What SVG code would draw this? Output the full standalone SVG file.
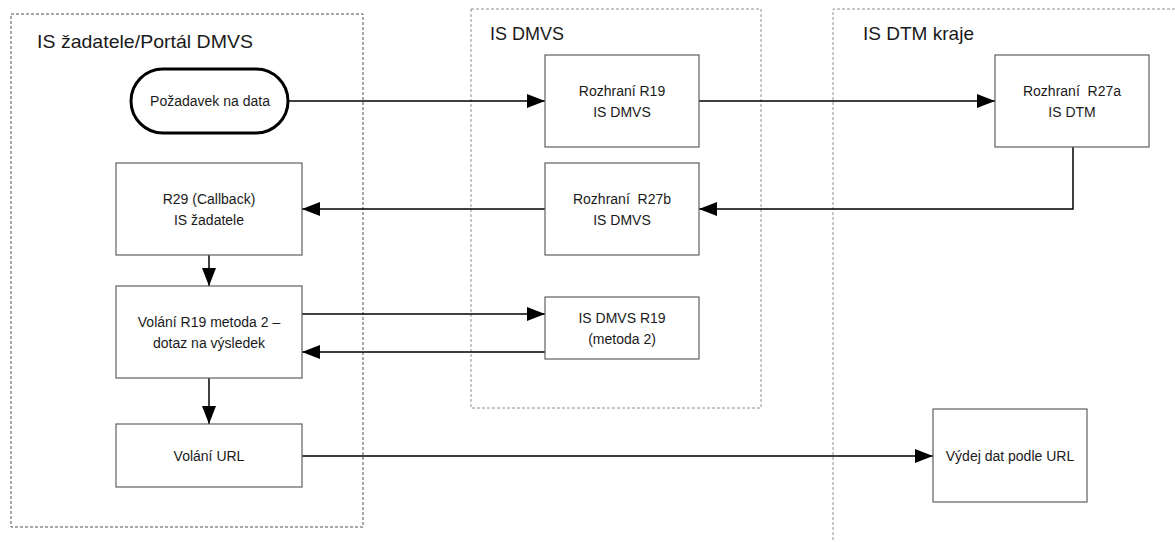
<svg xmlns="http://www.w3.org/2000/svg" width="1175" height="542" viewBox="0 0 1175 542">
<style>
.cont{fill:none;stroke:#909090;stroke-width:1;stroke-dasharray:3,2}
.dark{stroke:#505050}
.box{fill:#fff;stroke:#606060;stroke-width:1.2}
.pill{fill:#fff;stroke:#000;stroke-width:3}
.t{font-family:"Liberation Sans",Arial,sans-serif;font-size:14px;fill:#1a1a1a;text-anchor:middle}
.title{font-family:"Liberation Sans",Arial,sans-serif;font-size:19px;fill:#1a1a1a}
.c{fill:none;stroke:#000;stroke-width:1.5}
</style>
<defs>
<marker id="ah" markerUnits="userSpaceOnUse" markerWidth="19" markerHeight="14" refX="18" refY="7" orient="auto">
<path d="M0,0 L18,7 L0,14 z" fill="#000"/>
</marker>
</defs>
<rect width="1175" height="542" fill="#fff"/>
<g id="containers">
<g id="c-zadatel"><rect class="cont dark" x="11" y="14" width="352" height="513"/><text class="title" x="37" y="48" textLength="216" lengthAdjust="spacingAndGlyphs">IS žadatele/Portál DMVS</text></g>
<g id="c-dmvs"><rect class="cont" x="471" y="9" width="290" height="399"/><text class="title" x="490" y="40" textLength="74" lengthAdjust="spacingAndGlyphs">IS DMVS</text></g>
<g id="c-dtm"><path class="cont" d="M833,545 V9 H1180"/><text class="title" x="863" y="40" textLength="111" lengthAdjust="spacingAndGlyphs">IS DTM kraje</text></g>
</g>
<g id="connectors">
<path class="c" d="M288,101 H545" marker-end="url(#ah)"/>
<path class="c" d="M699,101 H995" marker-end="url(#ah)"/>
<path class="c" d="M1073,147 V209 H699" marker-end="url(#ah)"/>
<path class="c" d="M545,209 H302" marker-end="url(#ah)"/>
<path class="c" d="M209,255 V286" marker-end="url(#ah)"/>
<path class="c" d="M302,314 H545" marker-end="url(#ah)"/>
<path class="c" d="M545,352 H302" marker-end="url(#ah)"/>
<path class="c" d="M209,378 V424" marker-end="url(#ah)"/>
<path class="c" d="M302,456 H933" marker-end="url(#ah)"/>
</g>
<g id="n-pozadavek"><rect class="pill" x="131" y="69" width="157" height="64" rx="32"/><text class="t" x="210" y="106">Požadavek na data</text></g>
<g id="n-r19"><rect class="box" x="545" y="55" width="154" height="92"/><text class="t" x="622" y="96">Rozhraní R19</text><text class="t" x="622" y="117">IS DMVS</text></g>
<g id="n-r27a"><rect class="box" x="995" y="55" width="154" height="92"/><text class="t" x="1072" y="96" xml:space="preserve">Rozhraní  R27a</text><text class="t" x="1072" y="117">IS DTM</text></g>
<g id="n-r27b"><rect class="box" x="545" y="163" width="154" height="92"/><text class="t" x="622" y="204" xml:space="preserve">Rozhraní  R27b</text><text class="t" x="622" y="225">IS DMVS</text></g>
<g id="n-r29"><rect class="box" x="116" y="163" width="186" height="92"/><text class="t" x="209" y="204">R29 (Callback)</text><text class="t" x="209" y="225">IS žadatele</text></g>
<g id="n-volani-r19"><rect class="box" x="116" y="286" width="186" height="92"/><text class="t" x="209" y="327">Volání R19 metoda 2 –</text><text class="t" x="209" y="348">dotaz na výsledek</text></g>
<g id="n-dmvs-r19"><rect class="box" x="545" y="297" width="154" height="62"/><text class="t" x="622" y="323">IS DMVS R19</text><text class="t" x="622" y="344">(metoda 2)</text></g>
<g id="n-volani-url"><rect class="box" x="116" y="424" width="186" height="63"/><text class="t" x="209" y="461">Volání URL</text></g>
<g id="n-vydej"><rect class="box" x="933" y="409" width="154" height="93"/><text class="t" x="1010" y="461">Výdej dat podle URL</text></g>
</svg>
